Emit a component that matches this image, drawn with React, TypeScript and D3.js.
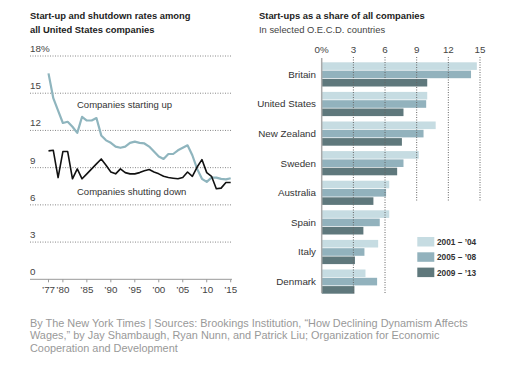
import React from "react";
import * as d3 from "d3";

const years = d3.range(1977, 2016);
const startups = [16.6, 14.6, 13.6, 12.6, 12.7, 12.3, 11.8, 13.1, 12.8, 12.8, 13.0, 11.6, 11.2, 11.0, 10.7, 10.6, 10.7, 11.0, 11.1, 11.0, 10.95, 10.7, 10.3, 9.9, 9.7, 10.1, 10.1, 10.4, 10.6, 10.8, 10.0, 8.9, 8.1, 7.85, 8.2, 8.2, 8.1, 8.05, 8.15];
const shutdowns = [10.35, 10.4, 8.2, 10.3, 10.3, 8.1, 8.9, 8.1, 8.5, 8.9, 9.3, 9.7, 9.2, 8.65, 8.5, 8.9, 8.6, 8.5, 8.5, 8.6, 8.75, 8.85, 8.65, 8.5, 8.3, 8.2, 8.15, 8.1, 8.2, 8.65, 8.3, 9.05, 9.65, 8.6, 8.3, 7.3, 7.35, 7.8, 7.8];
const leftTicks = [0, 3, 6, 9, 12, 15, 18];
const yearTicks = [1977, 1980, 1985, 1990, 1995, 2000, 2005, 2010, 2015];

const countries = ["Britain", "United States", "New Zealand", "Sweden", "Australia", "Spain", "Italy", "Denmark"];
const periods = ["2001 – ’04", "2005 – ’08", "2009 – ’13"];
const p2001 = [14.7, 10.0, 10.8, 9.2, 6.4, 6.4, 5.35, 4.15];
const p2005 = [14.15, 9.9, 9.65, 7.75, 6.1, 5.5, 4.05, 5.25];
const p2009 = [10.0, 7.75, 7.6, 7.15, 4.9, 3.95, 3.15, 3.1];
const barTicks = [0, 3, 6, 9, 12, 15];
const periodColors = ["#c6dce2", "#92b2bd", "#5f787c"];

const FONT = "'Liberation Sans', Arial, sans-serif";

export default function App() {
  const W = 516, H = 367;
  const x = d3.scaleLinear().domain([1977, 2015]).range([48.5, 230.7]);
  const y = d3.scaleLinear().domain([0, 18]).range([279.3, 56]);
  const line = d3.line<number>().x((_, i) => x(years[i])).y((d) => y(d));

  const bx = d3.scaleLinear().domain([0, 15]).range([321.7, 480]);
  const band = d3.scaleBand<string>().domain(countries).range([62.3, 62.3 + 29.6 * 8]).paddingInner(0);
  const series = [p2001, p2005, p2009];
  const barH = 7.6, barGap = 0.7;

  return (
    <svg width={W} height={H} style={{ position: "absolute", left: 0, top: 0, background: "#fff" }} fontFamily={FONT}>
      {/* Left chart */}
      <text x={30} y={18.5} fontSize={9.4} fontWeight="bold" fill="#222">Start-up and shutdown rates among</text>
      <text x={30} y={32.5} fontSize={9.4} fontWeight="bold" fill="#222">all United States companies</text>
      {leftTicks.map((t) => (
        <g key={t}>
          {t > 0 && (
            <line x1={30} x2={232} y1={y(t)} y2={y(t)} stroke="#888" strokeWidth={1} strokeDasharray="1,1.5" />
          )}
          <text x={30} y={y(t) - 4} fontSize={9.8} fill="#444">{t === 18 ? "18%" : t}</text>
        </g>
      ))}
      <line x1={30} x2={232} y1={y(0)} y2={y(0)} stroke="#999" strokeWidth={1} />
      {yearTicks.map((yr) => (
        <g key={yr}>
          <line x1={x(yr)} x2={x(yr)} y1={y(0)} y2={y(0) + 3} stroke="#999" />
          <text x={x(yr)} y={y(0) + 14} fontSize={9.8} fill="#444" textAnchor="middle">
            {"’" + String(yr).slice(2)}
          </text>
        </g>
      ))}
      <path d={line(startups) || ""} fill="none" stroke="#8fb5be" strokeWidth={2.2} strokeLinejoin="round" />
      <path d={line(shutdowns) || ""} fill="none" stroke="#111" strokeWidth={1.6} strokeLinejoin="round" />
      <text x={77} y={108} fontSize={9.5} fill="#333">Companies starting up</text>
      <text x={77} y={195} fontSize={9.5} fill="#333">Companies shutting down</text>

      {/* Right chart */}
      <text x={259} y={18.5} fontSize={9.4} fontWeight="bold" fill="#222">Start-ups as a share of all companies</text>
      <text x={259} y={32.5} fontSize={9.4} fill="#444">In selected O.E.C.D. countries</text>
      {barTicks.map((t) => (
        <text key={t} x={bx(t)} y={52.5} fontSize={9.8} fill="#444" textAnchor="middle">{t === 0 ? "0%" : t}</text>
      ))}
      {countries.map((c, ci) => (
        <g key={c}>
          {series.map((s, si) => (
            <rect
              key={si}
              x={bx(0)}
              y={(band(c) as number) + si * (barH + barGap)}
              width={bx(s[ci]) - bx(0)}
              height={barH}
              fill={periodColors[si]}
            />
          ))}
          <text x={316} y={(band(c) as number) + barH + barGap + barH / 2 + 3.4} fontSize={9.8} fill="#333" textAnchor="end">{c}</text>
        </g>
      ))}
      {barTicks.filter((t) => t > 0).map((t) => (
        <line key={t} x1={bx(t)} x2={bx(t)} y1={57} y2={t <= 6 ? 293 : 202} stroke="#666" strokeWidth={1} strokeDasharray="1,1.5" />
      ))}
      <line x1={bx(0)} x2={bx(0)} y1={58} y2={293} stroke="#aaa" strokeWidth={1.5} />
      {periods.map((p, i) => (
        <g key={p}>
          <rect x={417.3} y={237 + i * 15.3} width={17} height={9.5} fill={periodColors[i]} />
          <text x={437} y={245 + i * 15.3} fontSize={8.3} fontWeight="bold" fill="#333">{p}</text>
        </g>
      ))}

      {/* Footer */}
      {[
        "By The New York Times | Sources: Brookings Institution, “How Declining Dynamism Affects",
        "Wages,” by Jay Shambaugh, Ryan Nunn, and Patrick Liu; Organization for Economic",
        "Cooperation and Development",
      ].map((s, i) => (
        <text key={i} x={30} y={326.5 + i * 12.8} fontSize={10.9} fill="#999">{s}</text>
      ))}
    </svg>
  );
}
